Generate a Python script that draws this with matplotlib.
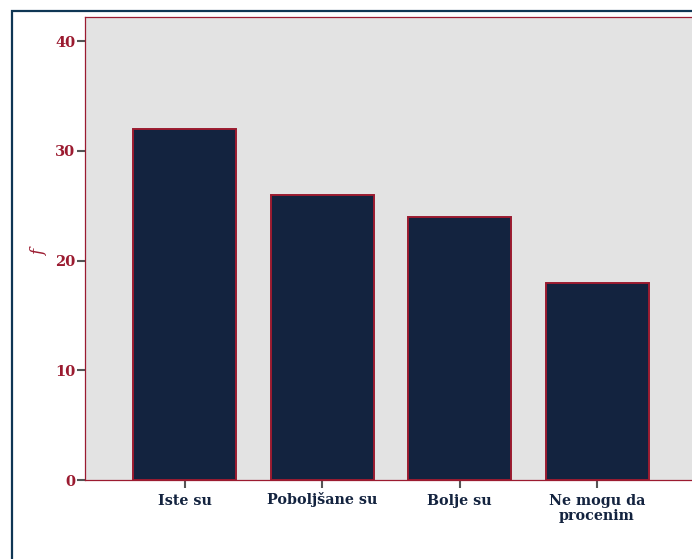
import matplotlib
matplotlib.use("Agg")
import matplotlib.pyplot as plt
from matplotlib.patches import Rectangle
from matplotlib.transforms import ScaledTranslation

categories = ["Iste su", "Poboljšane su", "Bolje su", "Ne mogu da\nprocenim"]
values = [32, 26, 24, 18]
yticks = [0, 10, 20, 30, 40]

W, H = 692, 559
fig = plt.figure(figsize=(W / 100, H / 100), dpi=100)
fig.patch.set_facecolor("white")

# figure frame
fig.patches.append(Rectangle((12 / W, -0.1), 1.2, (H - 11) / H + 0.1,
                             transform=fig.transFigure, fill=False,
                             edgecolor="#0f3654", linewidth=1.6, zorder=0))

serif = ["DejaVu Serif"]
ax = fig.add_axes([85 / W, 79 / H, 612 / W, 463 / H])
ax.set_facecolor("#e3e3e3")
x = list(range(len(categories)))
ax.bar(x, values, width=0.75, color="#13233f", edgecolor="#9b1b30", linewidth=1.4, zorder=3)
ax.set_xlim(-0.728, 3.728)
ax.set_ylim(0, 42.2)
ax.set_yticks(yticks)
ax.set_xticks(x)
ax.tick_params(axis="both", direction="out", length=6, width=1.5, color="#555555")
ax.tick_params(axis="y", pad=1)
ax.tick_params(axis="x", pad=4)
ax.set_xticklabels(categories, fontfamily=serif, fontweight="bold",
                   fontsize=10.3, color="#13233f", linespacing=1.12)
ax.set_yticklabels([str(v) for v in yticks], fontfamily=serif,
                   fontweight="bold", fontsize=10.5, color="#9b1b30")
for s in ax.spines.values():
    s.set_color("#9b1b30")
    s.set_linewidth(0.9)
ax.set_ylabel("f", fontfamily=serif, fontstyle="italic", fontsize=12,
              color="#9b1b30")
ax.yaxis.set_label_coords(-0.06, 0.49)

# align label with caron to the same baseline as the others
for lab in ax.get_xticklabels():
    if "š" in lab.get_text():
        lab.set_transform(lab.get_transform() +
                          ScaledTranslation(0, 2 / 100, fig.dpi_scale_trans))

fig.savefig("out.png", dpi=100)
